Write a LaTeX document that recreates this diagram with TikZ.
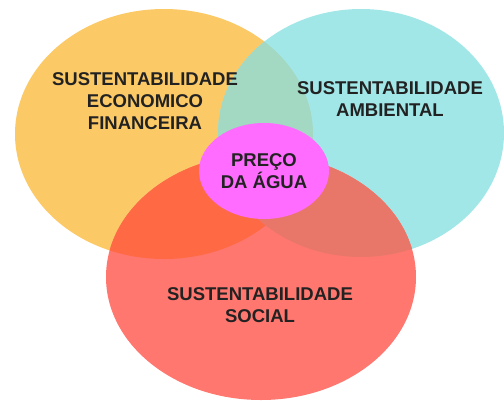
\documentclass[tikz,border=0pt]{standalone}
\usepackage{fontspec}
\setmainfont{Liberation Sans}
\usepackage{xcolor}
\usepackage{tikz}
\usetikzlibrary{shapes.geometric}
\definecolor{CFBC966}{HTML}{FBC966}
\definecolor{CA2E7E8}{HTML}{A2E7E8}
\definecolor{CA3D8C3}{HTML}{A3D8C3}
\definecolor{CFF776F}{HTML}{FF776F}
\definecolor{CFF6A45}{HTML}{FF6A45}
\definecolor{CE8776A}{HTML}{E8776A}
\definecolor{CFF6CFF}{HTML}{FF6CFF}
\definecolor{C222222}{HTML}{222222}
\newcommand{\ecoshape}{(164pt,-134pt) ellipse [x radius=149pt, y radius=125pt]}
\newcommand{\ambshape}{(361pt,-133pt) ellipse [x radius=143pt, y radius=124pt]}
\newcommand{\socshape}{(261pt,-277pt) ellipse [x radius=155pt, y radius=123pt]}
\tikzset{lbl/.style={align=center,text=C222222,font=\fontsize{18.5}{22}\selectfont\bfseries}}

\begin{document}
\begin{tikzpicture}[inner sep=0pt]
\useasboundingbox (0pt,0pt) rectangle (504pt,-400pt);
\clip (0pt,0pt) rectangle (504pt,-400pt);
\fill [CFBC966] \ecoshape;
\fill [CA2E7E8] \ambshape;
\begin{scope}
\clip \ecoshape;
\fill [CA3D8C3] \ambshape;
\end{scope}
\fill [CFF776F] \socshape;
\begin{scope}
\clip \ecoshape;
\fill [CFF6A45] \socshape;
\end{scope}
\begin{scope}
\clip \ambshape;
\fill [CE8776A] \socshape;
\end{scope}

\node (n0) [lbl,at={(145pt,-101pt)}] {SUSTENTABILIDADE\\ECONOMICO\\FINANCEIRA};
\node (n1) [lbl,at={(390pt,-99pt)}] {SUSTENTABILIDADE\\AMBIENTAL};
\node (n2) [lbl,at={(260pt,-305pt)}] {SUSTENTABILIDADE\\SOCIAL};
\node (n3) [lbl,shape=ellipse,fill=CFF6CFF,minimum width=130pt,minimum height=96pt,at={(264pt,-171pt)}] {PREÇO\\DA ÁGUA};
\end{tikzpicture}
\end{document}
